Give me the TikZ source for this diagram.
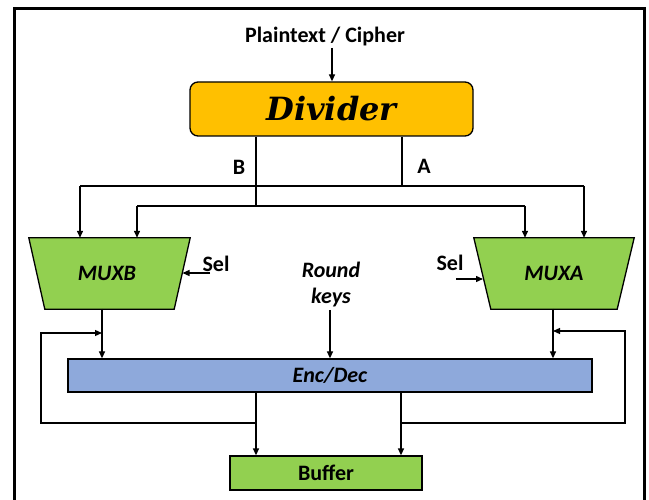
\documentclass[tikz,border=0pt]{standalone}
\usepackage{fontspec}
\setmainfont{Carlito}
\newfontfamily\divfont{DejaVu Serif}
\usetikzlibrary{arrows.meta}
\definecolor{divorange}{HTML}{FFC000}
\definecolor{mgreen}{HTML}{92D050}
\definecolor{encblue}{HTML}{8EA9DB}
\begin{document}
\begin{tikzpicture}[x={(1pt,0)},y={(0,-1pt)},
  wire/.style={line width=1.3pt,black},
  arr/.style={wire,-{Triangle[length=7pt,width=6pt]}},
  lbl/.style={font=\fontsize{22}{24}\selectfont\bfseries,inner sep=0pt},
  ilbl/.style={font=\fontsize{22}{26}\selectfont\bfseries\itshape,inner sep=0pt},
  blk/.style={draw=black,line width=1.3pt,inner sep=0pt},
  muxbox/.style={inner sep=0pt,font=\fontsize{22}{24}\selectfont\bfseries\itshape}]
\useasboundingbox (0,0) rectangle (649,500);
\clip (0,0) rectangle (649,500);
% frame
\draw[line width=3pt] (14.5,530) -- (14.5,8.5) -- (644.5,8.5) -- (644.5,530);
% top
\node[lbl] (pt) at (325,37) {Plaintext / Cipher};
\node[blk,fill=divorange,rounded corners=8pt,minimum width=283pt,minimum height=54pt,
      font=\divfont\fontsize{32}{34}\selectfont\bfseries\itshape] (div) at (331.5,109) {Divider};
\coordinate (ptin) at (332,48);
\draw[arr] (ptin) -- (ptin |- div.north);
% junctions
\coordinate (bJ) at (256,206);
\coordinate (bL) at (137,206);
\coordinate (bR) at (525,206);
\coordinate (aJ) at (402,186);
\coordinate (aL) at (80,186);
\coordinate (aR) at (584,186);
\node[lbl] (labB) at (239,167) {B};
\node[lbl] (labA) at (424,166) {A};
% muxes
\node[muxbox,minimum width=161pt,minimum height=71pt] (mb) at (109.5,273.5) {};
\node[muxbox,minimum width=160pt,minimum height=71pt] (ma) at (554,273.5) {};
\draw[blk,fill=mgreen] (mb.north west) -- (mb.north east) -- ([xshift=-16pt]mb.south east) -- ([xshift=16pt]mb.south west) -- cycle;
\draw[blk,fill=mgreen] (ma.north west) -- (ma.north east) -- ([xshift=-17pt]ma.south east) -- ([xshift=17pt]ma.south west) -- cycle;
\node[muxbox] (mbt) at (107,273) {MUXB};
\node[muxbox] (mat) at (554,273) {MUXA};
% divider outputs
\draw[wire] (bJ |- div.south) -- (bJ);
\draw[wire] (aJ |- div.south) -- (aJ);
\draw[wire] (aL) -- (aR);
\draw[wire] (bL) -- (bR);
\draw[arr] (aL) -- (aL |- mb.north);
\draw[arr] (bL) -- (bL |- mb.north);
\draw[arr] (bR) -- (bR |- ma.north);
\draw[arr] (aR) -- (aR |- ma.north);
% sel
\node[lbl] (selB) at (216,264) {Sel};
\node[lbl] (selA) at (450,263) {Sel};
\coordinate (selBs) at (210,273);
\coordinate (selBe) at (182.5,273);
\coordinate (selAs) at (456,279);
\coordinate (selAe) at (483,279);
\draw[arr] (selBs) -- (selBe);
\draw[arr] (selAs) -- (selAe);
% round keys
\node[ilbl,align=center] (rk) at (331,285) {Round\\keys};
% enc/dec
\node[blk,fill=encblue,minimum width=524pt,minimum height=33pt,font=\fontsize{22}{24}\selectfont\bfseries\itshape] (enc) at (330,375.5) {Enc/Dec};
\coordinate (rkin) at (330,310);
\draw[arr] (rkin) -- (rkin |- enc.north);
% mux outputs
\coordinate (mbo) at (102,309);
\coordinate (mao) at (553,309);
\draw[arr] (mbo) -- (mbo |- enc.north);
\draw[arr] (mao) -- (mao |- enc.north);
% buffer
\node[blk,fill=mgreen,minimum width=192pt,minimum height=34pt,font=\fontsize{22}{24}\selectfont\bfseries] (buf) at (326,473) {Buffer};
\coordinate (o1) at (256,392);
\coordinate (o2) at (401,392);
\draw[arr] (o1 |- enc.south) -- (o1 |- buf.north);
\draw[arr] (o2 |- enc.south) -- (o2 |- buf.north);
% feedback
\coordinate (fbL) at (41,423);
\coordinate (fbR) at (625,423);
\draw[arr] (o1 |- fbL) -- (fbL) -- (41,333) -- (mbo |- 0,333);
\draw[arr] (o2 |- fbR) -- (fbR) -- (625,331) -- (mao |- 0,331);
\end{tikzpicture}
\end{document}
